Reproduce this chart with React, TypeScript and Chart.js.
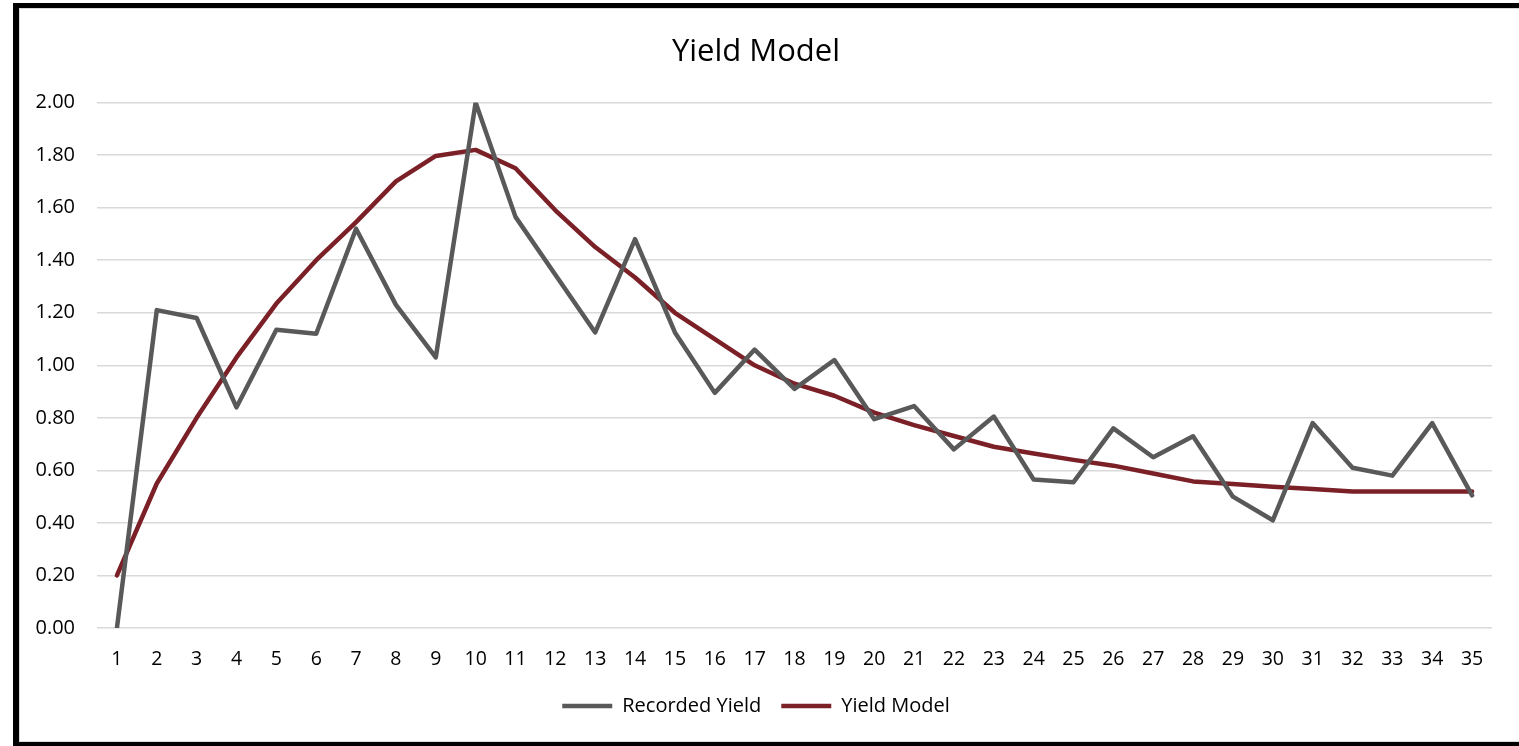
import React, { useEffect, useRef } from "react";
import { Chart, registerables } from "chart.js";

Chart.register(...registerables);

const categories = Array.from({ length: 35 }, (_, i) => String(i + 1));
const recordedYield = [
  0.0, 1.21, 1.18, 0.84, 1.135, 1.12, 1.52, 1.23, 1.03, 2.0,
  1.565, 1.345, 1.125, 1.48, 1.125, 0.895, 1.06, 0.91, 1.02, 0.795,
  0.845, 0.68, 0.805, 0.565, 0.555, 0.76, 0.65, 0.73, 0.5, 0.41,
  0.78, 0.61, 0.58, 0.78, 0.505,
];
const yieldModel = [
  0.2, 0.55, 0.8, 1.03, 1.235, 1.4, 1.545, 1.7, 1.797, 1.82,
  1.75, 1.59, 1.45, 1.334, 1.2, 1.1, 1.0, 0.93, 0.884, 0.82,
  0.772, 0.731, 0.69, 0.664, 0.64, 0.618, 0.588, 0.558, 0.548, 0.538,
  0.529, 0.52, 0.52, 0.52, 0.52,
];
const seriesNames = ["Recorded Yield", "Yield Model"];
const chartTitle = "Yield Model";

const FONT = "'Open Sans', 'Noto Sans', sans-serif";

export default function App() {
  const ref = useRef<HTMLCanvasElement | null>(null);

  useEffect(() => {
    if (!ref.current) return;
    const chart = new Chart(ref.current, {
      type: "line",
      data: {
        labels: categories,
        datasets: [
          {
            label: seriesNames[0],
            data: recordedYield,
            borderColor: "#595959",
            backgroundColor: "#595959",
            borderWidth: 4.5,
            pointRadius: 0,
            tension: 0,
            borderCapStyle: "round",
            borderJoinStyle: "round",
          },
          {
            label: seriesNames[1],
            data: yieldModel,
            borderColor: "#7b2027",
            backgroundColor: "#7b2027",
            borderWidth: 4.5,
            pointRadius: 0,
            tension: 0,
            borderCapStyle: "round",
            borderJoinStyle: "round",
          },
        ],
      },
      options: {
        responsive: false,
        animation: false,
        devicePixelRatio: 1,
        layout: { padding: { left: 20, right: 27, top: 0, bottom: 20 } },
        plugins: {
          title: {
            display: true,
            text: chartTitle,
            color: "#000",
            font: { family: FONT, size: 31, weight: "normal" },
            padding: { top: 33.4, bottom: 32 },
          },
          legend: {
            position: "bottom",
            labels: {
              usePointStyle: true,
              pointStyle: "line",
              pointStyleWidth: 50,
              color: "#000",
              font: { family: FONT, size: 20 },
              padding: 20,
            },
          },
          tooltip: { enabled: false },
        },
        scales: {
          x: {
            offset: true,
            grid: { display: false, drawTicks: false },
            border: { display: false },
            ticks: {
              color: "#000",
              font: { family: FONT, size: 19.5 },
              padding: 19.5,
              maxRotation: 0,
              autoSkip: false,
            },
            afterFit: (s: any) => {
              s.height = 48;
            },
          },
          y: {
            min: 0,
            max: 2,
            grid: { color: "#d9d9d9", lineWidth: 1.5, drawTicks: false },
            border: { display: false },
            ticks: {
              stepSize: 0.2,
              color: "#000",
              font: { family: FONT, size: 20 },
              padding: 22,
              callback: (v: any) => Number(v).toFixed(2),
            },
            afterFit: (s: any) => {
              s.width = 77;
            },
          },
        },
      },
    });
    return () => chart.destroy();
  }, []);

  return (
    <div
      style={{
        position: "fixed",
        left: 0,
        top: 0,
        width: 1519,
        height: 746,
        background: "#fff",
        overflow: "hidden",
      }}
    >
      <div
        style={{
          position: "absolute",
          left: 13,
          top: 3,
          width: 1506,
          height: 743,
          boxSizing: "border-box",
          borderLeft: "6px solid #000",
          borderTop: "5px solid #000",
          borderBottom: "4px solid #000",
        }}
      >
        <div
          style={{
            position: "absolute",
            inset: 0,
            borderLeft: "1px solid #d9d9d9",
            borderTop: "1px solid #d9d9d9",
            borderBottom: "1px solid #d9d9d9",
          }}
        />
      </div>
      <canvas
        ref={ref}
        width={1519}
        height={746}
        style={{ position: "absolute", left: 0, top: 0, width: 1519, height: 746 }}
      />
    </div>
  );
}
